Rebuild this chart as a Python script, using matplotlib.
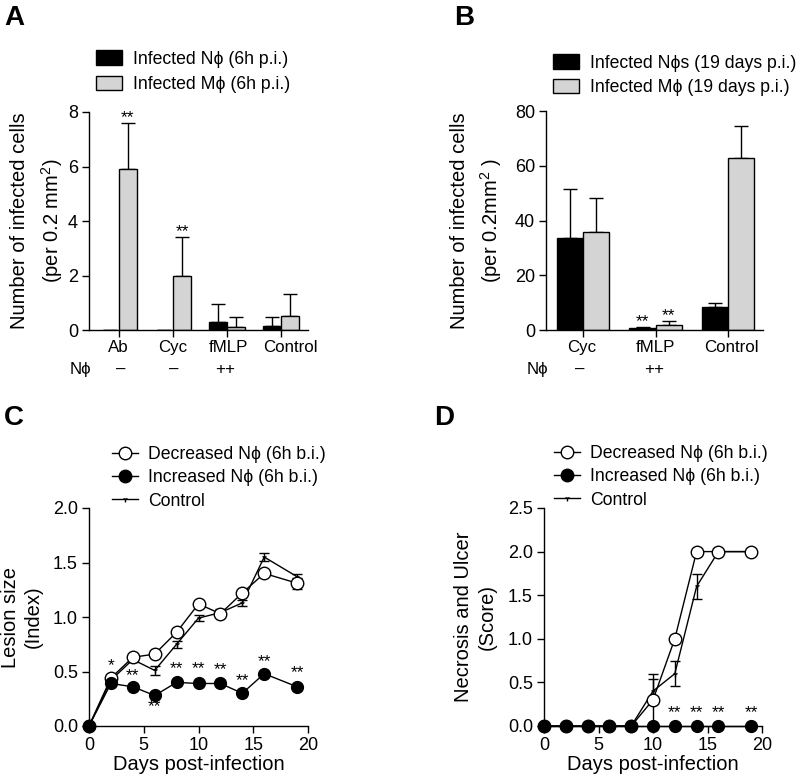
import matplotlib
matplotlib.use("Agg")
import matplotlib.pyplot as plt
import matplotlib.transforms as mtransforms
import numpy as np
from matplotlib.patches import Patch
from matplotlib.lines import Line2D

plt.rcParams['font.family'] = ['Liberation Sans', 'DejaVu Sans']
plt.rcParams['mathtext.fontset'] = 'custom'
plt.rcParams['mathtext.rm'] = 'Liberation Sans'
plt.rcParams['mathtext.it'] = 'Liberation Sans:italic'
plt.rcParams['axes.linewidth'] = 1.0

# ---------------- data ----------------
# Panel A
catsA = ["Ab", "Cyc", "fMLP", "Control"]
nphiA = ["–", "–", "++", ""]
A_neut = [np.nan, np.nan, 0.28, 0.15]
A_neut_err = [0, 0, 0.67, 0.32]
A_mac = [5.9, 2.0, 0.12, 0.5]
A_mac_err = [1.7, 1.42, 0.35, 0.82]
A_stars = ["**", "**", "", ""]

# Panel B
catsB = ["Cyc", "fMLP", "Control"]
nphiB = ["–", "++", ""]
B_neut = [33.5, 0.6, 8.3]
B_neut_err = [18.0, 0.5, 1.5]
B_mac = [35.8, 1.8, 62.8]
B_mac_err = [12.4, 1.4, 11.7]
B_neut_stars = ["", "**", ""]
B_mac_stars = ["", "**", ""]

# Panel C
days = [0, 2, 4, 6, 8, 10, 12, 14, 16, 19]
C_dec = [0, 0.44, 0.63, 0.66, 0.86, 1.12, 1.03, 1.22, 1.40, 1.31]
C_dec_err = [0, 0, 0, 0, 0, 0, 0, 0, 0, 0.05]
C_inc = [0, 0.39, 0.36, 0.28, 0.40, 0.39, 0.39, 0.30, 0.48, 0.36]
C_ctrl = [0, 0.42, 0.61, 0.51, 0.75, 0.99, 1.04, 1.13, 1.55, 1.37]
C_ctrl_err = [0, 0.02, 0.02, 0.04, 0.03, 0.03, 0.03, 0.03, 0.04, 0.02]
C_stars = ["", "*", "**", "**", "**", "**", "**", "**", "**", "**"]
C_star_y = [0, 0.55, 0.46, 0.18, 0.53, 0.53, 0.52, 0.42, 0.59, 0.49]

# Panel D
D_dec = [0, 0, 0, 0, 0, 0.3, 1.0, 2.0, 2.0, 2.0]
D_dec_err = [0, 0, 0, 0, 0, 0.3, 0, 0, 0, 0]
D_inc = [0, 0, 0, 0, 0, 0, 0, 0, 0, 0]
D_ctrl = [0, 0, 0, 0, 0, 0.4, 0.6, 1.6, 2.0, 2.0]
D_ctrl_err = [0, 0, 0, 0, 0, 0.14, 0.14, 0.14, 0, 0]
D_stars = ["", "", "", "", "", "", "**", "**", "**", "**"]

GRAY = "#d4d4d4"
TICK_FS = 13
LAB_FS = 14.5
CAT_FS = 12.2
LEG_FS = 12.7
STAR_FS = 12.5

fig = plt.figure(figsize=(8, 7.82), dpi=100)
W, H = 800, 782


def add_ax(l, t, r, b):
    return fig.add_axes([l / W, 1 - b / H, (r - l) / W, (b - t) / H])


axA = add_ax(89, 112, 308, 330)
axB = add_ax(546, 111, 763, 330)
axC = add_ax(89, 508, 308, 726)
axD = add_ax(544, 508, 762, 726)

for ax in (axA, axB, axC, axD):
    ax.spines['top'].set_visible(False)
    ax.spines['right'].set_visible(False)
    ax.tick_params(labelsize=TICK_FS, length=5, width=1, direction='out', pad=3)


def place_ylabel(ax, text, x_px_center, ax_left_px, ax_width_px, linespacing):
    ax.set_ylabel(text, fontsize=LAB_FS, linespacing=linespacing)
    ax.yaxis.set_label_coords((x_px_center - ax_left_px) / ax_width_px, 0.5)
    ax.yaxis.label.set_verticalalignment('center')


def bar_panel(ax, cats, neut, neut_err, mac, mac_err, width, xlim, ymax, yticks,
              nphi, label_shift_px, nphi_shift_px):
    x = np.arange(len(cats))
    nb = np.nan_to_num(np.array(neut, dtype=float))
    ax.errorbar(x - width / 2, nb, yerr=[np.zeros(len(x)), neut_err], fmt='none',
                ecolor='black', elinewidth=1, capsize=5, capthick=1, zorder=1)
    ax.errorbar(x + width / 2, mac, yerr=[np.zeros(len(x)), mac_err], fmt='none',
                ecolor='black', elinewidth=1, capsize=5, capthick=1, zorder=1)
    ax.bar(x - width / 2, neut, width, color='black', edgecolor='black', linewidth=1, zorder=2)
    ax.bar(x + width / 2, mac, width, color=GRAY, edgecolor='black', linewidth=1, zorder=2)
    ax.set_xlim(*xlim)
    ax.set_ylim(0, ymax)
    ax.set_yticks(yticks)
    ax.set_xticks(x)
    ax.set_xticklabels(cats, fontsize=CAT_FS)
    ax.tick_params(axis='x', pad=2.5)
    for lab, dx in zip(ax.get_xticklabels(), label_shift_px):
        lab.set_transform(lab.get_transform() +
                          mtransforms.ScaledTranslation(dx / 100, 0, fig.dpi_scale_trans))
    trans = ax.get_xaxis_transform()
    for xi, s, dx in zip(x, nphi, nphi_shift_px):
        if s:
            ax.text(xi, -0.18, s, ha='center', va='center', fontsize=CAT_FS,
                    transform=trans + mtransforms.ScaledTranslation(dx / 100, 0, fig.dpi_scale_trans))
    ax.text(-0.04, -0.18, "Nϕ", transform=ax.transAxes, ha='center', va='center', fontsize=CAT_FS)
    return x


# Panel A
wA = 0.34
xA = bar_panel(axA, catsA, A_neut, A_neut_err, A_mac, A_mac_err, wA, (-0.55, 3.5), 8,
               [0, 2, 4, 6, 8], nphiA, [0, 0, 2, 9], [2, 1, -2, 0])
for xi, v, e, s in zip(xA, A_mac, A_mac_err, A_stars):
    if s:
        axA.text(xi + wA / 2, v + e - 0.08, s, ha='center', va='bottom', fontsize=STAR_FS)
place_ylabel(axA, "Number of infected cells\n(per 0.2 mm$^{2}$)", 37.5, 89, 219, 1.5)
axA.legend(handles=[Patch(facecolor='black', edgecolor='black', label="Infected Nϕ (6h p.i.)"),
                    Patch(facecolor=GRAY, edgecolor='black', label="Infected Mϕ (6h p.i.)")],
           loc='upper left', bbox_to_anchor=(0.03, 1.283), frameon=False, fontsize=LEG_FS,
           handlelength=1.5, handleheight=0.9, handletextpad=0.65, labelspacing=0.45,
           borderpad=0, borderaxespad=0)

# Panel B
wB = 0.36
xB = bar_panel(axB, catsB, B_neut, B_neut_err, B_mac, B_mac_err, wB, (-0.51, 2.48), 80,
               [0, 20, 40, 60, 80], nphiB, [-1, 0, 3], [-3, -1, 0])
for xi, v, e, s in zip(xB, B_neut, B_neut_err, B_neut_stars):
    if s:
        axB.text(xi - wB / 2, v + e - 0.8, s, ha='center', va='bottom', fontsize=STAR_FS)
for xi, v, e, s in zip(xB, B_mac, B_mac_err, B_mac_stars):
    if s:
        axB.text(xi + wB / 2, v + e - 0.8, s, ha='center', va='bottom', fontsize=STAR_FS)
place_ylabel(axB, "Number of infected cells\n(per 0.2mm$^{2}$ )", 477, 546, 217, 1.5)
axB.legend(handles=[Patch(facecolor='black', edgecolor='black', label="Infected Nϕs (19 days p.i.)"),
                    Patch(facecolor=GRAY, edgecolor='black', label="Infected Mϕ (19 days p.i.)")],
           loc='upper left', bbox_to_anchor=(0.03, 1.258), frameon=False, fontsize=LEG_FS,
           handlelength=1.5, handleheight=0.9, handletextpad=0.65, labelspacing=0.38,
           borderpad=0, borderaxespad=0)


def line_panel(ax, dec, dec_err, inc, ctrl, ctrl_err, ymax, yticks):
    ax.errorbar(days, ctrl, yerr=ctrl_err, color='black', lw=1, marker='1', ms=4,
                capsize=3.5, capthick=1, elinewidth=1, zorder=2, clip_on=False)
    ax.errorbar(days, dec, yerr=dec_err, color='black', lw=1, marker='o', ms=9,
                mfc='white', mec='black', mew=1, capsize=3.5, capthick=1, elinewidth=1,
                zorder=3, clip_on=False)
    ax.plot(days, inc, color='black', lw=1, marker='o', ms=8.5, mfc='black', mec='black',
            zorder=4, clip_on=False)
    ax.set_xlim(0, 20)
    ax.set_ylim(0, ymax)
    ax.set_xticks([0, 5, 10, 15, 20])
    ax.set_yticks(yticks)
    ax.set_xlabel("Days post-infection", fontsize=LAB_FS, labelpad=1)
    leg = ax.legend(handles=[
        Line2D([], [], color='black', lw=1, marker='o', ms=9, mfc='white', mec='black'),
        Line2D([], [], color='black', lw=1, marker='o', ms=9, mfc='black', mec='black'),
        Line2D([], [], color='black', lw=1, marker='1', ms=4)],
        labels=["Decreased Nϕ (6h b.i.)", "Increased Nϕ (6h b.i.)", "Control"],
        loc='upper left', frameon=False, fontsize=LEG_FS, handlelength=1.45,
        handletextpad=0.6, labelspacing=0.35, borderpad=0, borderaxespad=0)
    return leg


legC = line_panel(axC, C_dec, C_dec_err, C_inc, C_ctrl, C_ctrl_err, 2.0,
                  [0.0, 0.5, 1.0, 1.5, 2.0])
legC.set_bbox_to_anchor((0.105, 1.283), transform=axC.transAxes)
axC.yaxis.set_major_formatter(matplotlib.ticker.FormatStrFormatter('%.1f'))
for d, s, y in zip(days, C_stars, C_star_y):
    if s:
        axC.text(d, y, s, ha='center', va='center', fontsize=STAR_FS)
place_ylabel(axC, "Lesion size\n(Index)", 22, 89, 219, 1.3)

legD = line_panel(axD, D_dec, D_dec_err, D_inc, D_ctrl, D_ctrl_err, 2.5,
                  [0.0, 0.5, 1.0, 1.5, 2.0, 2.5])
legD.set_bbox_to_anchor((0.046, 1.288), transform=axD.transAxes)
axD.yaxis.set_major_formatter(matplotlib.ticker.FormatStrFormatter('%.1f'))
for d, s in zip(days, D_stars):
    if s:
        axD.text(d, 0.15, s, ha='center', va='center', fontsize=STAR_FS)
place_ylabel(axD, "Necrosis and Ulcer\n(Score)", 475.5, 544, 218, 1.3)

# Panel letters
for lbl, x, y in [("A", 4, 5), ("B", 454, 5), ("C", 4, 405), ("D", 434, 405)]:
    fig.text(x / W, 1 - y / H, lbl, fontsize=20, fontweight='bold', ha='left', va='top')

fig.savefig("out.png", dpi=100)
